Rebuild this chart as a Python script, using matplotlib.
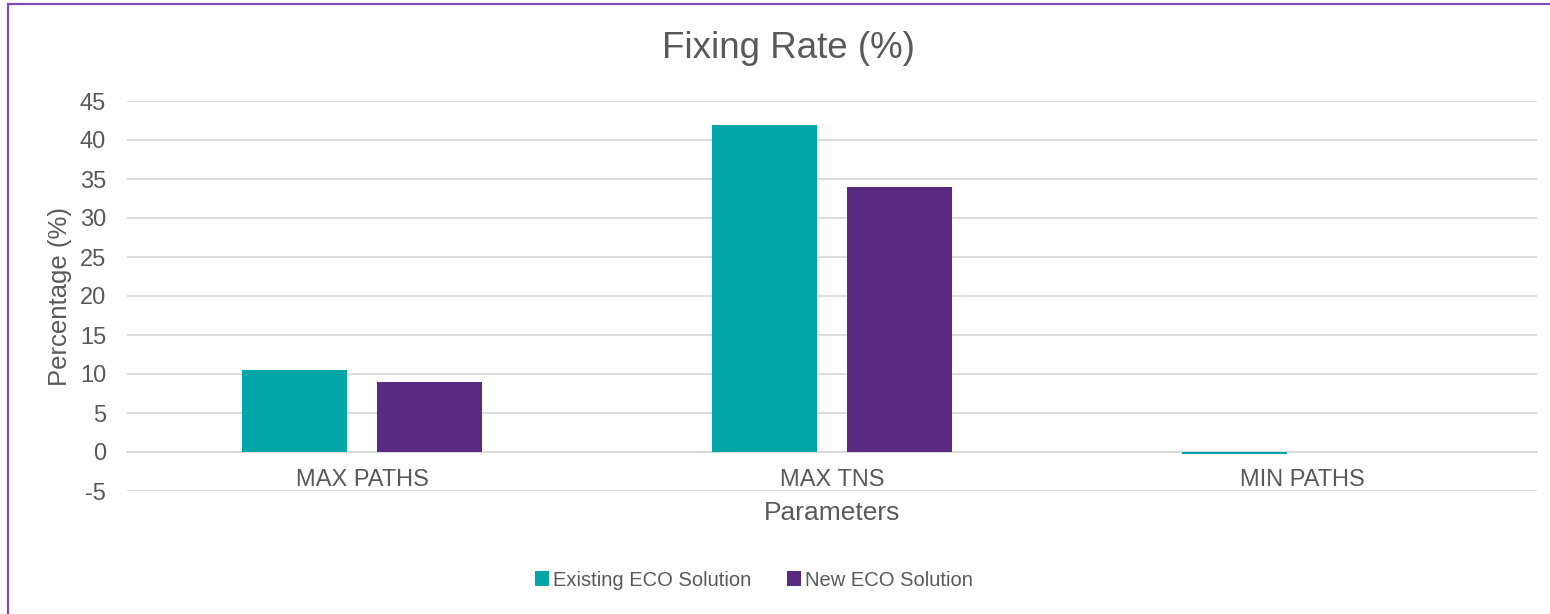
import matplotlib.pyplot as plt
import numpy as np
from matplotlib.patches import Rectangle

# fixing rate per parameter group
categories = ["MAX PATHS", "MAX TNS", "MIN PATHS"]
existing_eco = [10.5, 41.9, -0.2]
new_eco = [9.0, 34.0, 0.0]
series_names = ["Existing ECO Solution", "New ECO Solution"]

teal = "#00A5A8"
purple = "#5A2A82"
text_gray = "#595959"
grid_gray = "#D9D9D9"

plt.rcParams['font.family'] = ['Liberation Sans', 'DejaVu Sans']
plt.rcParams['axes.unicode_minus'] = False

fig = plt.figure(figsize=(15.5, 6.14), dpi=100)
ax = fig.add_axes([127 / 1550, 1 - 491 / 614, 1410 / 1550, 390 / 614])

x = np.arange(len(categories))
width = 0.224
offset = 0.143
ax.bar(x - offset, existing_eco, width, color=teal, label=series_names[0], zorder=3)
ax.bar(x + offset, new_eco, width, color=purple, label=series_names[1], zorder=3)

ax.set_xlim(-0.5, 2.5)
ax.set_ylim(-5, 45)
ax.set_yticks(range(-5, 50, 5))
ax.set_xticks(x)
ax.set_xticklabels(categories)

ax.grid(axis='y', color=grid_gray, linewidth=1.3, zorder=0)
for s in ['top', 'right', 'left']:
    ax.spines[s].set_visible(False)
# category axis crosses at zero
ax.spines['bottom'].set_position(('data', 0))
ax.spines['bottom'].set_color(grid_gray)
ax.spines['bottom'].set_linewidth(1.3)
ax.spines['bottom'].set_zorder(2)
ax.tick_params(axis='both', length=0, labelsize=17, labelcolor=text_gray)
ax.tick_params(axis='y', pad=15)
ax.tick_params(axis='x', pad=12)

ax.set_xlabel("Parameters", fontsize=19, color=text_gray)
ax.xaxis.set_label_coords(0.5, -0.025)
ax.set_ylabel("Percentage (%)", fontsize=18.5, color=text_gray)
ax.yaxis.set_label_coords(-0.039, 0.5)

fig.text(788 / 1550, 1 - 48 / 614, "Fixing Rate (%)", fontsize=26.5,
         color=text_gray, ha='center', va='center')

leg = fig.legend(loc='center', bbox_to_anchor=(754 / 1550, 1 - 580 / 614), ncol=2,
                 frameon=False, fontsize=14.5, handlelength=0.7, handleheight=0.7,
                 handletextpad=0.2, columnspacing=1.8)
for t in leg.get_texts():
    t.set_color(text_gray)

# chart area border
fig.patches.append(Rectangle((7.5 / 1550, -0.1), 1.2, 1 - 4 / 614 + 0.1,
                             transform=fig.transFigure, fill=False,
                             edgecolor="#7E4DB8", linewidth=1.6))

fig.savefig("out.png", dpi=100)
